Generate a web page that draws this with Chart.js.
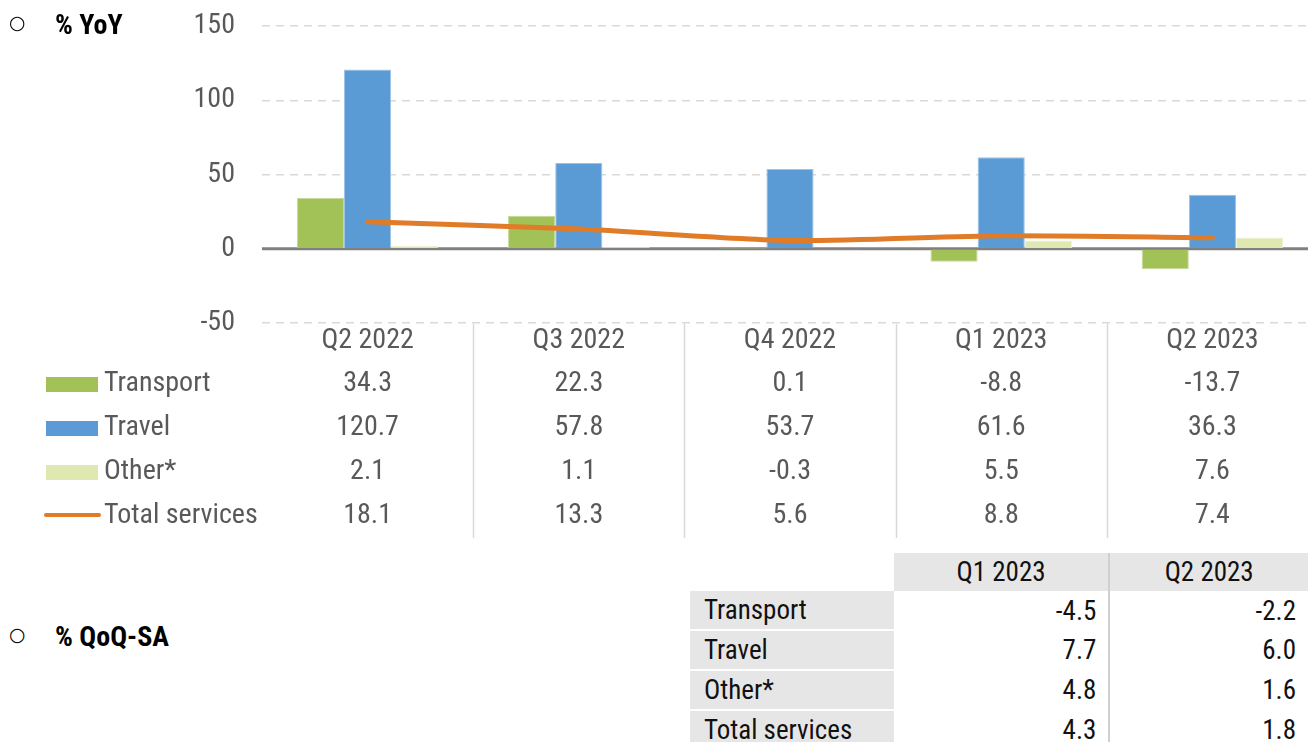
<!DOCTYPE html>
<html>
<head>
<meta charset="utf-8">
<script src="https://cdn.jsdelivr.net/npm/chart.js@4.4.0/dist/chart.umd.min.js"></script>
<style>
  body { margin: 0; width: 1308px; height: 742px; overflow: hidden; background: #fff; position: relative;
         font-family: 'Liberation Sans Narrow', 'Roboto Condensed', 'DejaVu Sans Condensed', sans-serif; }
  #wrap { position: absolute; left: 0; top: 0; width: 1308px; height: 545px; overflow: hidden; }
  .bullet { position: absolute; font-family: 'DejaVu Sans', sans-serif; font-size: 19px; color: #000; }
  .head { position: absolute; font-weight: bold; font-size: 28px; color: #000; }
  table.qoq { position: absolute; left: 690px; top: 553px; border-collapse: collapse; font-size: 27px; color: #111; }
  table.qoq td { padding: 0; height: 38px; line-height: 38px; }
  table.qoq td.lab { background: #e7e6e6; width: 190px; padding-left: 14px; border-bottom: 2px solid #fff; }
  table.qoq td.v1 { width: 203px; text-align: right; padding-right: 12px; border-right: 2px solid #d0d0d0; }
  table.qoq td.v2 { width: 186px; text-align: right; padding-right: 12px; }
  table.qoq tr.hd td { background: #e7e6e6; text-align: center; height: 38px; border-bottom: 0; }
</style>
</head>
<body>
<div id="wrap"><canvas id="chart" width="1318" height="545"></canvas></div>
<div class="bullet" style="left:9px;top:11px;">○</div>
<div class="head" style="left:55px;top:8px;">% YoY</div>
<div class="bullet" style="left:9px;top:623px;">○</div>
<div class="head" style="left:55px;top:620px;">% QoQ-SA</div>
<table class="qoq" id="qoq"></table>
<script>
const quarters = ['Q2 2022', 'Q3 2022', 'Q4 2022', 'Q1 2023', 'Q2 2023'];
const transport = [34.3, 22.3, 0.1, -8.8, -13.7];
const travel = [120.7, 57.8, 53.7, 61.6, 36.3];
const other = [2.1, 1.1, -0.3, 5.5, 7.6];
const totalServices = [18.1, 13.3, 5.6, 8.8, 7.4];

const qoqQuarters = ['Q1 2023', 'Q2 2023'];
const qoqRows = ['Transport', 'Travel', 'Other*', 'Total services'];
const qoqQ1 = [-4.5, 7.7, 4.8, 4.3];
const qoqQ2 = [-2.2, 6.0, 1.6, 1.8];

const FONT = "'Liberation Sans Narrow', 'Roboto Condensed', 'DejaVu Sans Condensed', sans-serif";
const GREY = '#595959';

// bottom QoQ table
const qoq = document.getElementById('qoq');
let html = '<tr class="hd"><td class="lab" style="background:#fff"></td>';
html += '<td class="v1" style="text-align:center;padding-right:0">' + qoqQuarters[0] + '</td>';
html += '<td class="v2" style="text-align:center;padding-right:0">' + qoqQuarters[1] + '</td></tr>';
qoqRows.forEach((r, i) => {
    html += '<tr><td class="lab">' + r + '</td><td class="v1">' + qoqQ1[i].toFixed(1) +
            '</td><td class="v2">' + qoqQ2[i].toFixed(1) + '</td></tr>';
});
qoq.innerHTML = html;

// rows of the data table under the chart
const tableRows = [
    { label: 'Transport', data: transport, color: '#a2c257', key: 'box' },
    { label: 'Travel', data: travel, color: '#5b9bd5', key: 'box' },
    { label: 'Other*', data: other, color: '#dfe8b0', key: 'box' },
    { label: 'Total services', data: totalServices, color: '#e07b27', key: 'line' },
];

const dataTable = {
    id: 'dataTable',
    beforeDatasetsDraw(chart) {
        const ctx = chart.ctx;
        const y0 = chart.scales.y.getPixelForValue(0);
        ctx.save();
        ctx.strokeStyle = '#808080';
        ctx.lineWidth = 3;
        ctx.beginPath();
        ctx.moveTo(chart.chartArea.left, y0);
        ctx.lineTo(chart.chartArea.right, y0);
        ctx.stroke();
        ctx.restore();
    },
    afterDraw(chart) {
        const ctx = chart.ctx;
        const x = chart.scales.x;
        const top = chart.chartArea.bottom;
        ctx.save();
        // column separators
        ctx.strokeStyle = '#d9d9d9';
        ctx.lineWidth = 1.5;
        for (let i = 0; i < quarters.length - 1; i++) {
            const sx = Math.round((x.getPixelForValue(i) + x.getPixelForValue(i + 1)) / 2) + 0.5;
            ctx.beginPath();
            ctx.moveTo(sx, top + 1);
            ctx.lineTo(sx, 538);
            ctx.stroke();
        }
        ctx.font = '28px ' + FONT;
        ctx.fillStyle = GREY;
        ctx.textBaseline = 'middle';
        ctx.textAlign = 'center';
        quarters.forEach((q, i) => ctx.fillText(q, x.getPixelForValue(i), 341));
        const rowY = [384, 428, 472, 516];
        tableRows.forEach((r, j) => {
            const cy = rowY[j];
            if (r.key === 'box') {
                ctx.fillStyle = r.color;
                ctx.fillRect(46, cy - 7, 52, 15);
            } else {
                ctx.strokeStyle = r.color;
                ctx.lineWidth = 4;
                ctx.lineCap = 'round';
                ctx.beginPath();
                ctx.moveTo(46, cy - 1);
                ctx.lineTo(99, cy - 1);
                ctx.stroke();
            }
            ctx.fillStyle = GREY;
            ctx.textAlign = 'left';
            ctx.fillText(r.label, 104, cy);
            ctx.textAlign = 'center';
            r.data.forEach((v, i) => ctx.fillText(v.toFixed(1), x.getPixelForValue(i), cy));
        });
        ctx.restore();
    }
};

new Chart(document.getElementById('chart'), {
    type: 'bar',
    data: {
        labels: quarters,
        datasets: [
            {
                type: 'line',
                label: 'Total services',
                data: totalServices,
                borderColor: '#e07b27',
                borderWidth: 5,
                borderCapStyle: 'round',
                pointRadius: 0,
                tension: 0.25,
                order: 0
            },
            {
                label: 'Transport',
                data: transport,
                backgroundColor: '#a2c257',
                borderColor: '#c5d99a',
                borderWidth: 1,
                order: 1
            },
            {
                label: 'Travel',
                data: travel,
                backgroundColor: '#5b9bd5',
                borderColor: '#9cc3e6',
                borderWidth: 1,
                order: 1
            },
            {
                label: 'Other*',
                data: other,
                backgroundColor: '#dfe8b0',
                borderColor: '#eef3d6',
                borderWidth: 1,
                order: 1
            }
        ]
    },
    options: {
        responsive: false,
        animation: false,
        datasets: {
            bar: { categoryPercentage: 0.67, barPercentage: 1.0 }
        },
        layout: { padding: { top: 26, bottom: 214, left: 0, right: 0 } },
        plugins: {
            legend: { display: false },
            tooltip: { enabled: false },
            title: { display: false }
        },
        scales: {
            x: {
                ticks: { display: false },
                grid: { display: false },
                border: { display: false }
            },
            y: {
                min: -50,
                max: 150,
                afterFit(scale) { scale.width = 262; },
                ticks: {
                    stepSize: 50,
                    padding: 0,
                    color: GREY,
                    font: { family: FONT, size: 28 }
                },
                grid: {
                    drawTicks: true,
                    tickLength: 27,
                    tickColor: 'rgba(0,0,0,0)',
                    lineWidth: 1.5,
                    color: c => c.tick && c.tick.value === 0 ? 'rgba(0,0,0,0)' : '#d9d9d9'
                },
                border: { display: false, dash: [8, 6] }
            }
        }
    },
    plugins: [dataTable]
});
</script>
</body>
</html>
